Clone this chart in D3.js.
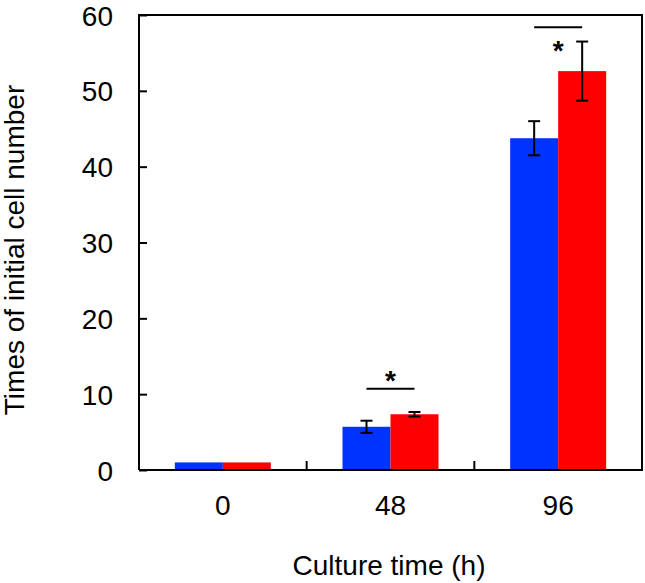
<!DOCTYPE html>
<html><head><meta charset="utf-8">
<script src="https://cdn.jsdelivr.net/npm/d3@7"></script>
<style>body{margin:0;background:#fff}svg{display:block}text{font-family:"Liberation Sans",Arial,sans-serif;fill:#000}</style>
</head><body><svg id="c" width="645" height="583"></svg>
<script>
const categories = ["0","48","96"];
const seriesA = [1.0, 5.7, 43.75];
const errA = [0, 0.8, 2.25];
const seriesB = [1.0, 7.35, 52.6];
const errB = [0, 0.3, 3.9];
const yTicks = [0,10,20,30,40,50,60];
const sigCats = ["48","96"];
const sigLevels = [10.7, 58.4];
const sigStarLevels = [10.6, 54.1];

const svg = d3.select("#c");
const L=139, R=642, T=15, B=470;
const x = d3.scaleBand().domain(categories).range([L,R]);
const y = d3.scaleLinear().domain([0,60]).range([B,T]);
const barW = 48;
const colors = ["#0033ff","#ff0000"];
const FS = 28;

const g = svg.append("g");
categories.forEach((c,i)=>{
  const cx = x(c)+x.bandwidth()/2;
  [[seriesA,errA],[seriesB,errB]].forEach(([s,e],k)=>{
    const x0 = cx - barW + k*barW;
    g.append("rect").attr("x",x0).attr("y",y(s[i])).attr("width",barW).attr("height",y(0)-y(s[i])).attr("fill",colors[k]);
    if(e[i]>0){
      const mx = x0+barW/2;
      const eg = g.append("g").attr("stroke","#000").attr("stroke-width",2);
      eg.append("line").attr("x1",mx).attr("x2",mx).attr("y1",y(s[i]+e[i])).attr("y2",y(s[i]-e[i]));
      [s[i]+e[i],s[i]-e[i]].forEach(v=>eg.append("line").attr("x1",mx-6).attr("x2",mx+6).attr("y1",y(v)).attr("y2",y(v)));
    }
  });
});

// significance
sigCats.forEach((c,i)=>{
  const cx = x(c)+x.bandwidth()/2;
  g.append("line").attr("x1",cx-24).attr("x2",cx+24).attr("y1",y(sigLevels[i])).attr("y2",y(sigLevels[i])).attr("stroke","#000").attr("stroke-width",2);
  g.append("text").attr("x",cx).attr("y",y(sigStarLevels[i])).attr("text-anchor","middle").attr("font-size",FS).attr("font-weight","bold").text("*");
});

// frame
svg.append("path").attr("d",`M${L},${B}V${T}H${R}V${B}H${L}`).attr("fill","none").attr("stroke","#000").attr("stroke-width",2);

// y axis
const ya = svg.append("g").attr("transform",`translate(${L},0)`).call(d3.axisLeft(y).tickValues(yTicks).tickSize(-8).tickPadding(26).tickFormat(d3.format("d")));
ya.select(".domain").remove();
ya.selectAll("line").attr("stroke","#000").attr("stroke-width",2);
ya.selectAll("text").attr("font-size",FS).attr("font-family","Liberation Sans, Arial, sans-serif").attr("dy","0.36em");

// x axis ticks at band boundaries
categories.slice(1).forEach(c=>svg.append("line").attr("x1",x(c)).attr("x2",x(c)).attr("y1",B).attr("y2",B-9).attr("stroke","#000").attr("stroke-width",2));
const xa = svg.append("g").attr("transform",`translate(0,${B})`).call(d3.axisBottom(x).tickSize(0).tickPadding(0));
xa.select(".domain").remove();
xa.selectAll("text").attr("font-size",FS).attr("font-family","Liberation Sans, Arial, sans-serif").attr("dy",null).attr("y",45);

svg.append("text").attr("x",389).attr("y",575).attr("text-anchor","middle").attr("font-size",FS).text("Culture time (h)");
svg.append("text").attr("transform",`translate(24,250) rotate(-90)`).attr("text-anchor","middle").attr("font-size",FS).text("Times of initial cell number");
</script></body></html>
